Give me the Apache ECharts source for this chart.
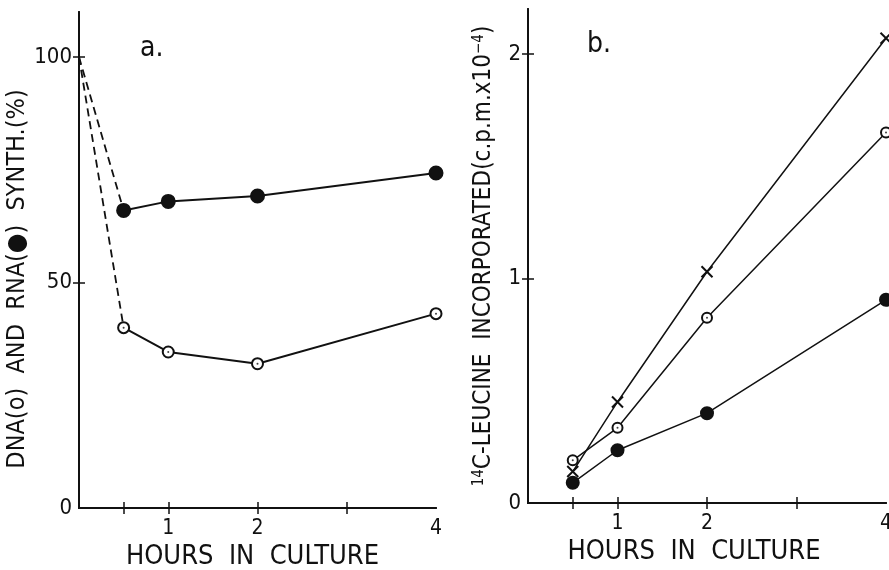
<!DOCTYPE html>
<html>
<head>
<meta charset="utf-8">
<script src="https://cdn.jsdelivr.net/npm/echarts@6/dist/echarts.min.js"></script>
<style>
  html, body { margin: 0; padding: 0; background: #fff; }
  #chart { width: 889px; height: 570px; }
</style>
</head>
<body>
<div id="chart"></div>
<script>
// hours in culture (shared by both panels)
const hours = [0.5, 1, 2, 4]
const xTicks = [0.5, 1, 2, 3]
const xLabels = [1, 2, 4]

// panel a: % of control synthesis
const rnaA = [66, 68, 69.2, 74.3]
const dnaA = [40, 34.6, 32, 43.1]
const startA = [0, 100]
const yTicksA = [50, 100]
const yLabelsA = [0, 50, 100]

// panel b: 14C-leucine incorporated (c.p.m. x 10^-4)
const crossB = [0.14, 0.45, 1.03, 2.07]
const openB = [0.19, 0.335, 0.825, 1.65]
const filledB = [0.09, 0.235, 0.4, 0.905]
const yTicksB = [1, 2]
const yLabelsB = [0, 1, 2]

const font = '"DejaVu Sans Condensed", "Liberation Sans Narrow", "DejaVu Sans", sans-serif'
const ink = '#111'

function pairs (ys) {
    return hours.map((h, i) => [h, ys[i]])
}

function xAxes (gridIndex) {
    const base = {
        type: 'value',
        gridIndex: gridIndex,
        min: 0,
        max: 4,
        axisLine: { lineStyle: { color: ink, width: 2 } },
        axisTick: { inside: true, length: 6, customValues: xTicks, lineStyle: { color: ink, width: 1.5 } },
        splitLine: { show: false }
    }
    return [
        Object.assign({}, base, {
            position: 'bottom',
            axisLabel: { customValues: xLabels, color: ink, fontSize: 21, fontFamily: font, margin: 10 },
            name: 'HOURS  IN  CULTURE',
            nameLocation: 'middle',
            nameGap: gridIndex ? 34 : 35,
            nameTextStyle: { color: ink, fontSize: 27, fontFamily: font, padding: gridIndex ? [0, 26, 0, 0] : [0, 10, 0, 0] }
        }),
        Object.assign({}, base, {
            position: 'top',
            axisLabel: { show: false }
        })
    ]
}

function yAxes (gridIndex, max, ticks, labels, name, nameGap, size, pad) {
    const base = {
        type: 'value',
        gridIndex: gridIndex,
        min: 0,
        max: max,
        axisLine: { show: true, lineStyle: { color: ink, width: 2 } },
        axisTick: { show: true, inside: true, length: 6, customValues: ticks, lineStyle: { color: ink, width: 1.5 } },
        splitLine: { show: false }
    }
    return [
        Object.assign({}, base, {
            position: 'left',
            axisLabel: { customValues: labels, color: ink, fontSize: 22, fontFamily: font, margin: 7 },
            name: name,
            nameLocation: 'middle',
            nameRotate: 90,
            nameGap: nameGap,
            nameTextStyle: {
                color: ink,
                fontSize: size,
                fontFamily: font,
                padding: pad,
                rich: {
                    sup: { fontSize: 15, fontFamily: font, color: ink, lineHeight: 13, verticalAlign: 'top' }
                }
            }
        }),
        Object.assign({}, base, {
            position: 'right',
            axisLabel: { show: false }
        })
    ]
}

function line (xi, yi, data, symbol, size, width, extra) {
    return Object.assign({
        type: 'line',
        xAxisIndex: xi,
        yAxisIndex: yi,
        data: data,
        symbol: symbol,
        symbolSize: size,
        showSymbol: true,
        clip: false,
        lineStyle: { color: ink, width: width },
        itemStyle: { color: ink, borderColor: ink, borderWidth: 2 },
        emphasis: { disabled: true },
        z: 3
    }, extra || {})
}

function dots (xi, yi, data) {
    return {
        type: 'scatter',
        xAxisIndex: xi,
        yAxisIndex: yi,
        data: data,
        symbol: 'circle',
        symbolSize: 2,
        clip: false,
        itemStyle: { color: ink },
        z: 5
    }
}

const cross = 'path://M0,0L10,10M10,0L0,10'

const option = {
    backgroundColor: '#fff',
    animation: false,
    grid: [
        { left: 79, top: 12, width: 357, height: 496, outerBoundsMode: 'none', containLabel: false },
        { left: 528, top: 9, width: 358, height: 494, outerBoundsMode: 'none', containLabel: false }
    ],
    xAxis: xAxes(0).concat(xAxes(1)),
    yAxis: yAxes(0, 110, yTicksA, yLabelsA, 'DNA(o)  AND  RNA(●)  SYNTH.(%)', 44, 25, [0, 38, 0, 0])
        .concat(yAxes(1, 2.2, yTicksB, yLabelsB, '{sup|14}C-LEUCINE  INCORPORATED(c.p.m.x10{sup|−4})', 32, 24, [0, 0, 0, 0])),
    graphic: [
        { type: 'text', left: 140, top: 35, style: { text: 'a.', fontSize: 28, fontFamily: font, fill: ink } },
        { type: 'text', left: 587, top: 31, style: { text: 'b.', fontSize: 28, fontFamily: font, fill: ink } }
    ],
    series: [
        // panel a dashed drop from 100 %
        line(0, 0, [startA, [hours[0], rnaA[0]]], 'none', 0, 1.8, { lineStyle: { color: ink, width: 1.8, type: [8, 5] } }),
        line(0, 0, [startA, [hours[0], dnaA[0]]], 'none', 0, 1.8, { lineStyle: { color: ink, width: 1.8, type: [8, 5] } }),
        line(0, 0, pairs(rnaA), 'circle', 13, 2),
        line(0, 0, pairs(dnaA), 'emptyCircle', 11, 2),
        dots(0, 0, pairs(dnaA)),
        // panel b
        line(2, 2, pairs(crossB), cross, 11, 1.5, { itemStyle: { color: 'none', borderColor: ink, borderWidth: 2 } }),
        line(2, 2, pairs(openB), 'emptyCircle', 10, 1.5),
        dots(2, 2, pairs(openB)),
        line(2, 2, pairs(filledB), 'circle', 12, 1.5)
    ]
}

const chart = echarts.init(document.getElementById('chart'))
chart.setOption(option)
</script>
</body>
</html>
